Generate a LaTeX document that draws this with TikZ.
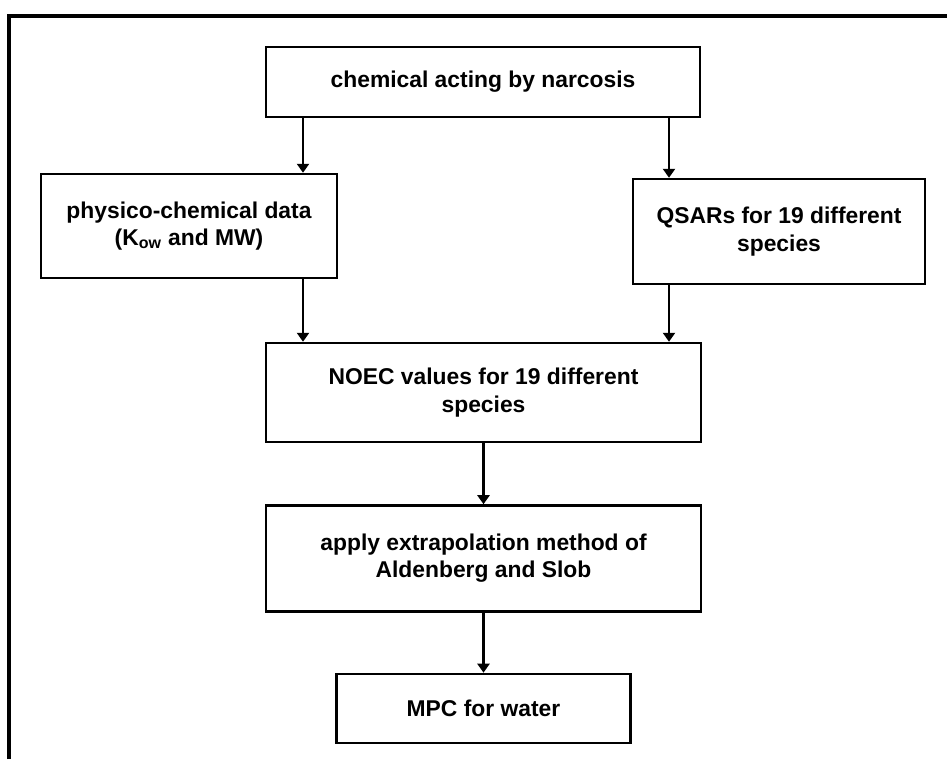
\documentclass[tikz,border=0pt]{standalone}
\usepackage{fontspec}
\setmainfont{Liberation Sans}
\usetikzlibrary{arrows.meta, positioning}

\begin{document}
\begin{tikzpicture}[
  font=\fontsize{13}{15.5}\selectfont\bfseries,   % Helvetica-like bold, one size for all boxes
  stepbox/.style={rectangle, draw=black, line width=1.4pt, fill=white,
                  align=center, inner sep=2pt},
  flow/.style={-{Triangle[length=1.8mm, width=2.4mm]}, draw=black, line width=1.3pt},
  frame/.style={draw=black, line width=2pt}
]
  \useasboundingbox (0,0) rectangle (18.94,-15.18);

  % --- outer frame (only the left and top sides are in view) ---
  \draw[frame] (0.18,-15.18) |- (18.94,-0.32);

  % --- top box and the two branches ---
  \node[stepbox, minimum width=8.68cm, minimum height=1.40cm] (narc) at (9.66,-1.64)
    {chemical acting by narcosis};
  \node[stepbox, minimum width=5.92cm, minimum height=2.08cm] (phys) at (3.78,-4.52)
    {physico-chemical data\\ (K\textsubscript{ow} and MW)};
  \node[stepbox, minimum width=5.84cm, minimum height=2.10cm] (qsar) at (15.58,-4.63)
    {QSARs for 19 different\\ species};

  % --- central column ---
  \node[stepbox, minimum width=8.70cm, minimum height=1.98cm] (noec) at (9.67,-7.85)
    {NOEC values for 19 different\\ species};
  \node[stepbox, minimum width=8.70cm, minimum height=2.12cm, below=1.22cm of noec] (aldb)
    {apply extrapolation method of\\ Aldenberg and Slob};
  \node[stepbox, minimum width=5.88cm, minimum height=1.38cm, below=1.20cm of aldb] (mpc)
    {MPC for water};

  % columns of the side arrows (off the box centres)
  \coordinate (lcol) at (6.06,0);
  \coordinate (rcol) at (13.38,0);

  % --- edges ---
  \draw[flow] (narc.south -| lcol) -- (phys.north -| lcol);
  \draw[flow] (narc.south -| rcol) -- (qsar.north -| rcol);
  \draw[flow] (phys.south -| lcol) -- (noec.north -| lcol);
  \draw[flow] (qsar.south -| rcol) -- (noec.north -| rcol);
  \draw[flow] (noec) -- (aldb);
  \draw[flow] (aldb) -- (mpc);

\end{tikzpicture}
\end{document}
